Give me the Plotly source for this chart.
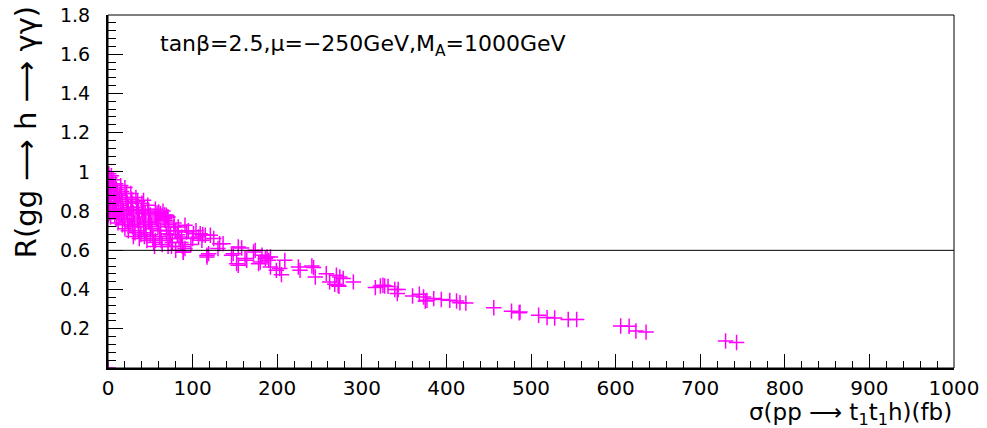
import plotly.graph_objects as go

# ---- data (sigma in fb, R ratio) ----
sigma_dense_a = [0, 1, 2, 1, 3, 2, 1, 4, 2, 3, 1, 5, 2, 6, 5, 7, 6, 8, 7, 9,
                 6, 8, 10, 4, 9, 10, 11, 12, 10, 12, 13, 14, 12, 15, 16, 14, 17, 15, 18, 16,
                 19, 17, 20, 0, 3]
r_dense_a = [0, 0.99, 0.97, 0.95, 0.93, 0.91, 0.89, 0.88, 0.86, 0.84, 0.82, 0.80, 0.79, 0.96, 0.94, 0.92, 0.90, 0.87, 0.85, 0.83,
             0.81, 0.78, 0.76, 0.98, 0.94, 0.91, 0.89, 0.86, 0.84, 0.81, 0.79, 0.77, 0.74, 0.93, 0.90, 0.88, 0.85, 0.83, 0.80, 0.78,
             0.76, 0.73, 0.71, 0.78, 0.77]

sigma_dense_b = [20, 22, 21, 23, 24, 22, 25, 23, 26, 24,
                 27, 28, 29, 27, 30, 28, 31, 29, 32, 30,
                 33, 35, 34, 36, 37, 35, 38, 36, 39, 37,
                 40, 42, 41, 43, 44, 42, 45, 43, 46,
                 47, 48, 50, 49, 51, 52, 50, 53, 54, 55]
r_dense_b = [0.92, 0.89, 0.87, 0.84, 0.82, 0.80, 0.78, 0.75, 0.73, 0.70,
             0.89, 0.86, 0.84, 0.81, 0.79, 0.76, 0.74, 0.72, 0.69, 0.67,
             0.87, 0.85, 0.82, 0.80, 0.77, 0.75, 0.73, 0.70, 0.68, 0.66,
             0.84, 0.81, 0.79, 0.76, 0.74, 0.72, 0.69, 0.67, 0.65,
             0.83, 0.80, 0.78, 0.75, 0.73, 0.71, 0.68, 0.66, 0.64, 0.62]

sigma_dense_c = [56, 58, 57, 60, 59, 62, 61, 63, 64, 65, 67, 68, 70, 72, 71, 74, 73, 76, 75,
                 78, 80, 82, 84, 86, 88]
r_dense_c = [0.81, 0.79, 0.76, 0.74, 0.72, 0.70, 0.67, 0.65, 0.63, 0.80, 0.78, 0.75, 0.77, 0.73, 0.70, 0.68, 0.66, 0.64, 0.62,
             0.72, 0.70, 0.68, 0.66, 0.64, 0.62]

sigma_mid = [40, 44, 48, 56, 62, 67, 71, 56, 62, 69,
             83, 87, 93, 101, 107, 111, 121, 117, 91, 89,
             130, 136, 146, 154, 152, 164, 172, 91, 109, 115,
             119, 132, 148, 42, 60, 69, 67, 71, 89, 117,
             78, 95, 100, 104, 112, 125, 98, 80]
r_mid = [0.804, 0.787, 0.745, 0.77, 0.787, 0.762, 0.77, 0.651, 0.702, 0.685,
         0.719, 0.668, 0.694, 0.685, 0.668, 0.651, 0.677, 0.575, 0.609, 0.592,
         0.609, 0.634, 0.575, 0.617, 0.532, 0.549, 0.592, 0.728, 0.685, 0.677,
         0.583, 0.634, 0.583, 0.855, 0.796, 0.779, 0.753, 0.62, 0.59, 0.566,
         0.74, 0.70, 0.66, 0.70, 0.68, 0.66, 0.63, 0.60]

sigma_tail_a = [158, 162, 174, 182, 180, 188, 192, 190, 178, 209,
                203, 199, 205, 225, 227, 243, 245, 258, 262, 270,
                274, 272, 290, 154, 192, 278, 186, 268, 273, 241]
r_tail_a = [0.612, 0.558, 0.60, 0.575, 0.54, 0.566, 0.566, 0.549, 0.532, 0.549,
            0.507, 0.498, 0.476, 0.515, 0.498, 0.512, 0.464, 0.481, 0.439, 0.473,
            0.464, 0.422, 0.439, 0.524, 0.515, 0.456, 0.558, 0.427, 0.417, 0.52]

sigma_tail_b = [316, 322, 325, 327, 331, 339, 343, 342, 360, 368,
                373, 375, 377, 385, 394, 404, 412, 416, 423, 456]
r_tail_b = [0.41, 0.418, 0.422, 0.418, 0.416, 0.40, 0.40, 0.38, 0.367, 0.376,
            0.362, 0.342, 0.345, 0.354, 0.349, 0.345, 0.342, 0.333, 0.331, 0.307]

sigma_tail_c = [477, 487, 486, 509, 519, 528, 544, 554, 606, 616, 624, 636, 730, 743]
r_tail_c = [0.29, 0.285, 0.282, 0.269, 0.257, 0.255, 0.247, 0.247, 0.214, 0.213, 0.189, 0.183, 0.138, 0.13]

cut_value = 0.6

x_tick_vals = [0, 100, 200, 300, 400, 500, 600, 700, 800, 900, 1000]
x_tick_text = ["0", "100", "200", "300", "400", "500", "600", "700", "800", "900", "1000"]
y_tick_vals = [0.2, 0.4, 0.6, 0.8, 1.0, 1.2, 1.4, 1.6, 1.8]
y_tick_text = ["0.2", "0.4", "0.6", "0.8", "1", "1.2", "1.4", "1.6", "1.8"]

sigma = sigma_dense_a + sigma_dense_b + sigma_dense_c + sigma_mid + sigma_tail_a + sigma_tail_b + sigma_tail_c
ratio = r_dense_a + r_dense_b + r_dense_c + r_mid + r_tail_a + r_tail_b + r_tail_c

FONT = "DejaVu Sans"
MAGENTA = "#ff00ff"

fig = go.Figure()
fig.add_trace(go.Scatter(
    x=sigma, y=ratio, mode="markers",
    marker=dict(symbol="cross-thin", size=11, color=MAGENTA,
                line=dict(color=MAGENTA, width=1.5)),
    cliponaxis=True, showlegend=False, hoverinfo="x+y",
))

fig.add_shape(type="line", xref="x", yref="y", x0=0, x1=1000, y0=cut_value, y1=cut_value,
              line=dict(color="black", width=1))
fig.add_shape(type="rect", xref="paper", yref="paper", x0=0, x1=1, y0=0, y1=1,
              line=dict(color="black", width=1))

fig.update_layout(
    width=987, height=428,
    margin=dict(l=108, r=33, t=15, b=60, autoexpand=False),
    paper_bgcolor="white", plot_bgcolor="white",
    font=dict(family=FONT, color="black"),
    xaxis=dict(range=[0, 1000], tickmode="array", tickvals=x_tick_vals, ticktext=x_tick_text,
               ticks="inside", ticklen=14, tickwidth=1, tickcolor="black", automargin=False,
               ticklabelstandoff=1,
               minor=dict(tickmode="linear", tick0=0, dtick=20, ticks="inside", ticklen=7,
                          tickcolor="black", tickwidth=1),
               showgrid=False, zeroline=False, showline=True, linecolor="black", linewidth=2,
               tickfont=dict(size=20, family=FONT)),
    yaxis=dict(range=[0, 1.8], tickmode="array", tickvals=y_tick_vals, ticktext=y_tick_text,
               ticks="inside", ticklen=15, tickwidth=1, tickcolor="black", automargin=False,
               ticklabelstandoff=12,
               minor=dict(tickmode="linear", tick0=0, dtick=0.04, ticks="inside", ticklen=8,
                          tickcolor="black", tickwidth=1),
               showgrid=False, zeroline=False, showline=True, linecolor="black", linewidth=2,
               tickfont=dict(size=19, family=FONT)),
)

fig.add_annotation(
    text="tanβ=2.5,μ=−250GeV,M<sub>A</sub>=1000GeV",
    xref="paper", yref="paper", x=0.059, y=0.915, xanchor="left", yanchor="middle",
    showarrow=False, font=dict(size=22, family=FONT),
)
fig.add_annotation(
    text="σ(pp ⟶ t<sub>1</sub>t<sub>1</sub>h)(fb)",
    xref="paper", yref="paper", x=1.0, y=-0.13, xanchor="right", yanchor="middle",
    showarrow=False, font=dict(size=23, family=FONT),
)
fig.add_annotation(
    text="R(gg ⟶ h ⟶ γγ)", textangle=-90,
    xref="paper", yref="paper", x=-0.096, y=1.03, xanchor="center", yanchor="top",
    showarrow=False, font=dict(size=29, family=FONT),
)

fig.write_html("out.html", post_script="document.body.style.margin='0px';",
               config={"displayModeBar": False})
